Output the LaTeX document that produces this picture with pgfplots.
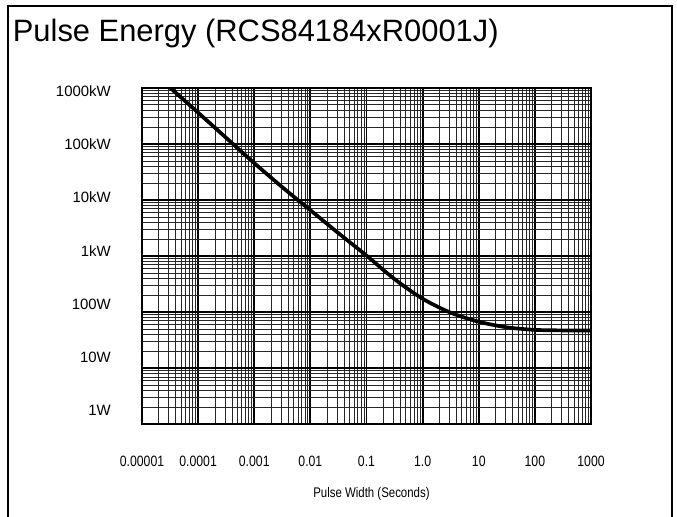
\documentclass[border=0pt]{standalone}
\usepackage{fontspec}
\setmainfont{Liberation Sans}
\newfontfamily\narrowfont{Liberation Sans}[FakeStretch=0.82]
\usepackage{pgfplots}
\pgfplotsset{compat=1.18}
\begin{document}
\begin{tikzpicture}[x=1bp,y=1bp]
\useasboundingbox (0,0) rectangle (677,517);
\draw[line width=2bp] (7.5,0) -- (7.5,511.3) -- (672.3,511.3) -- (672.3,0);
\node[anchor=base west, font=\fontsize{31}{36}\selectfont, inner sep=0pt] at (12.7,475.3) {Pulse Energy (RCS84184xR0001J)};
\begin{axis}[at={(142bp,92.7bp)}, anchor=south west, scale only axis,
  width=449bp, height=336.3bp,
  xmode=log, ymode=log, xmin=1e-5, xmax=1e3, ymin=1, ymax=1e6,
  xtick={1e-5,1e-4,1e-3,1e-2,1e-1,1,10,100,1000},
  ytick={1,10,100,1000,10000,100000,1000000},
  xticklabels={}, yticklabels={},
  grid=both,
  major grid style={black, line width=1.8bp},
  minor grid style={black!85, line width=0.8bp},
  major tick length=0pt, minor tick length=0pt,
  axis line style={line width=2.2bp},
  clip=true]
\addplot[line width=3.7bp, smooth, black] coordinates {
(2.818e-5,1.122e6) (1e-4,363078) (3.162e-4,128825) (1e-3,45709)
(3.162e-3,16982) (1e-2,6607) (3.162e-2,2570) (0.1,1023)
(0.3162,389) (1,173.8) (3.162,98) (10,67.6) (31.62,53.7)
(100,48.4) (316.2,47.3) (1000,47.0)
};
\end{axis}
\begin{axis}[at={(142bp,92.7bp)}, anchor=south west, scale only axis,
  width=449bp, height=336.3bp,
  xmin=-5, xmax=3, ymin=0, ymax=6,
  axis line style={draw=none},
  major tick length=0pt, minor tick length=0pt,
  xtick={-5,-4,-3,-2,-1,0,1,2,3},
  xticklabels={0.00001,0.0001,0.001,0.01,0.1,1.0,10,100,1000},
  ytick={0.243,1.194,2.145,3.095,4.046,4.996,5.946},
  yticklabels={1W,10W,100W,1kW,10kW,100kW,1000kW},
  xticklabel style={font={\narrowfont\fontsize{15}{18}\selectfont}, inner sep=0pt, anchor=north, yshift=-32bp},
  yticklabel style={font={\fontsize{15}{18}\selectfont}, inner sep=0pt, anchor=east, xshift=-31bp},
  xlabel={Pulse Width (Seconds)},
  xlabel style={font={\narrowfont\fontsize{14}{17}\selectfont}, at={(axis description cs:0.511,0)}, anchor=center, yshift=-70bp}]
\end{axis}
\end{tikzpicture}
\end{document}
